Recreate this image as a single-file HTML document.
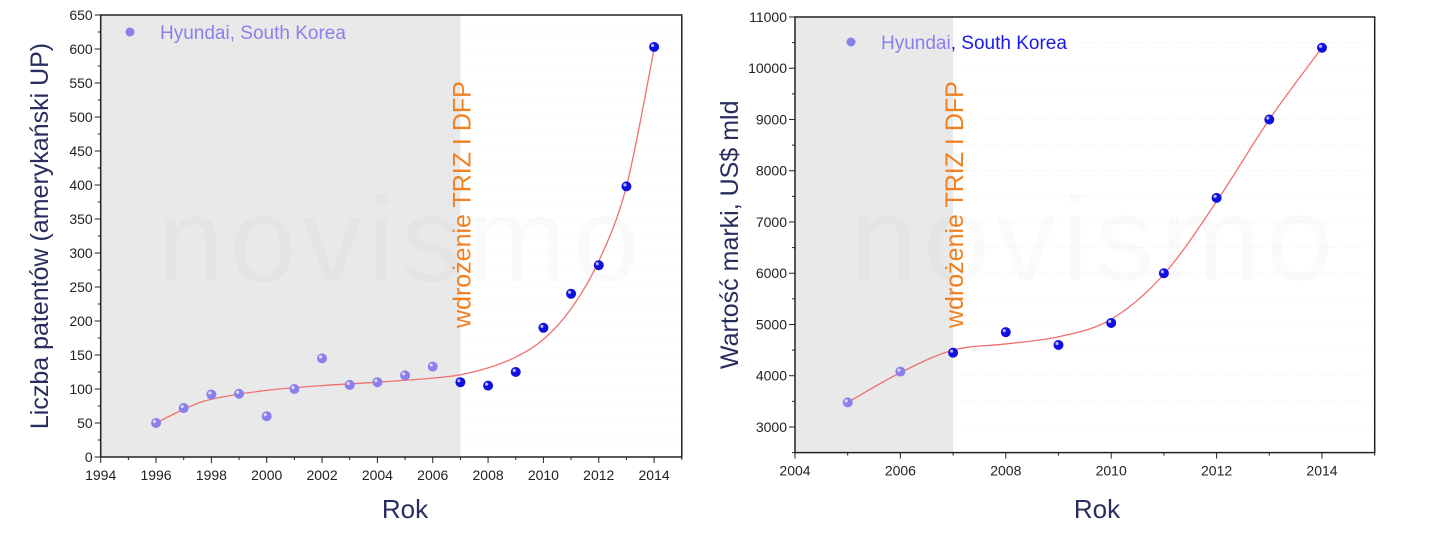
<!DOCTYPE html><html><head><meta charset="utf-8"><style>
body{margin:0;background:#fff;width:1430px;height:534px;overflow:hidden}
svg{font-family:"Liberation Sans",sans-serif}
</style></head><body>
<svg id="s" width="1430" height="534" xmlns="http://www.w3.org/2000/svg"></svg>
<script>
const s=document.getElementById('s');let h='';
function chart(o){
 const X=v=>o.x0+(v-o.xa)*o.xs, Y=v=>o.y0-(v-o.ya)*o.ys;
 const L=X(o.xa),R=X(o.xb),T=Y(o.yb),B=Y(o.ya);
 h+=`<rect x="${L}" y="${T}" width="${X(2007)-L}" height="${B-T}" fill="#e9e9e9"/>`;
 h+=`<text x="${(L+R)/2+10}" y="${(T+B)/2+45}" font-size="120" fill="#000" fill-opacity="0.018" text-anchor="middle" letter-spacing="6">novismo</text>`;
 for(let v=o.ya;v<=o.yb;v+=o.ymin){h+=`<line x1="${L}" x2="${R}" y1="${Y(v)}" y2="${Y(v)}" stroke="#e4e4e4" stroke-dasharray="1,2" stroke-width="0.6"/>`;}
 h+=`<rect x="${L}" y="${T}" width="${R-L}" height="${B-T}" fill="none" stroke="#222" stroke-width="1.5"/>`;
 for(let v=o.ya;v<=o.yb+1e-6;v+=o.ymin){const y=Y(v);const maj=(v%o.ymaj==0)&&v>=o.ylab0;
  h+=`<line x1="${L}" x2="${L-(maj?6:3)}" y1="${y}" y2="${y}" stroke="#222"/>`;
  if(maj)h+=`<text x="${L-8}" y="${y+5}" font-size="14" text-anchor="end" fill="#222">${v}</text>`;}
 for(let v=o.xa;v<=o.xb;v+=1){const x=X(v);const maj=(v-o.xa)%2==0;
  h+=`<line x1="${x}" x2="${x}" y1="${B}" y2="${B+(maj?6:3)}" stroke="#222"/>`;
  if(maj&&v<o.xb)h+=`<text x="${x}" y="${B+23}" font-size="14" text-anchor="middle" fill="#222">${v}</text>`;}
 const c=o.curve;let d='';
 for(let i=0;i<c.length;i++){const p=[X(c[i][0]),Y(c[i][1])];
  if(i==0)d+=`M${p}`;else{const p0=c[Math.max(i-2,0)],p1=c[i-1],p2=c[i],p3=c[Math.min(i+1,c.length-1)];
   const c1=[X(p1[0]+(p2[0]-p0[0])/6),Y(p1[1]+(p2[1]-p0[1])/6)],c2=[X(p2[0]-(p3[0]-p1[0])/6),Y(p2[1]-(p3[1]-p1[1])/6)];
   d+=`C${c1} ${c2} ${p}`;}}
 h+=`<path d="${d}" fill="none" stroke="#f07070" stroke-width="1.3"/>`;
 for(const [x,y] of o.data){const col=x<2007?'#8a80ec':'#1010e0';
  h+=`<circle cx="${X(x)}" cy="${Y(y)}" r="5" fill="${col}"/><circle cx="${X(x)-1.5}" cy="${Y(y)-1.5}" r="1.6" fill="#fff" fill-opacity="0.7"/>`;}
 h+=`<circle cx="${o.lx}" cy="${o.ly}" r="4.5" fill="#8a80ec"/>`;
 h+=`<text x="${o.lx+30}" y="${o.ly+7}" font-size="19" fill="#8a80ec">${o.leg}</text>`;
 h+=`<text transform="translate(${X(2007)+10},328) rotate(-90)" font-size="25" fill="#f08020">wdrożenie TRIZ I DFP</text>`;
 h+=`<text x="${o.rx}" y="518" font-size="26" fill="#2a2e5e" text-anchor="middle">Rok</text>`;
 h+=`<text transform="translate(${o.tx},${(T+B)/2}) rotate(-90)" font-size="25" fill="#2a2e5e" text-anchor="middle">${o.title}</text>`;
}
chart({x0:100.7,xa:1994,xb:2015,xs:27.67,y0:457,ya:0,yb:650,ys:0.68,ymaj:50,ymin:25,ylab0:0,
 data:[[1996,50],[1997,72],[1998,92],[1999,93],[2000,60],[2001,100],[2002,145],[2003,106],[2004,110],[2005,120],[2006,133],[2007,110],[2008,105],[2009,125],[2010,190],[2011,240],[2012,282],[2013,398],[2014,603]],
 curve:[[1996,50],[1997,70],[1998,85],[2000,98],[2002,105],[2004,110],[2006,116],[2007,121],[2008,131],[2009,147],[2010,173],[2011,218],[2012,288],[2013,398],[2014,600]],
 lx:130,ly:32,leg:'Hyundai, South Korea',rx:405,tx:48,title:'Liczba patentów (amerykański UP)'});
chart({x0:795,xa:2004,xb:2015,xs:52.7,y0:452.6,ya:2500,yb:11000,ys:0.05125,ymaj:1000,ymin:500,ylab0:3000,
 data:[[2005,3480],[2006,4080],[2007,4450],[2008,4850],[2009,4600],[2010,5030],[2011,6000],[2012,7470],[2013,9000],[2014,10400]],
 curve:[[2005,3480],[2006,4060],[2007,4500],[2008,4620],[2009,4760],[2010,5100],[2011,5980],[2012,7400],[2013,9000],[2014,10400]],
 lx:851,ly:42,leg:'Hyundai<tspan fill="#1a1ae8">, South Korea</tspan>',rx:1097,tx:738,title:'Wartość marki, US$ mld'});
s.innerHTML=h;
</script></body></html>
